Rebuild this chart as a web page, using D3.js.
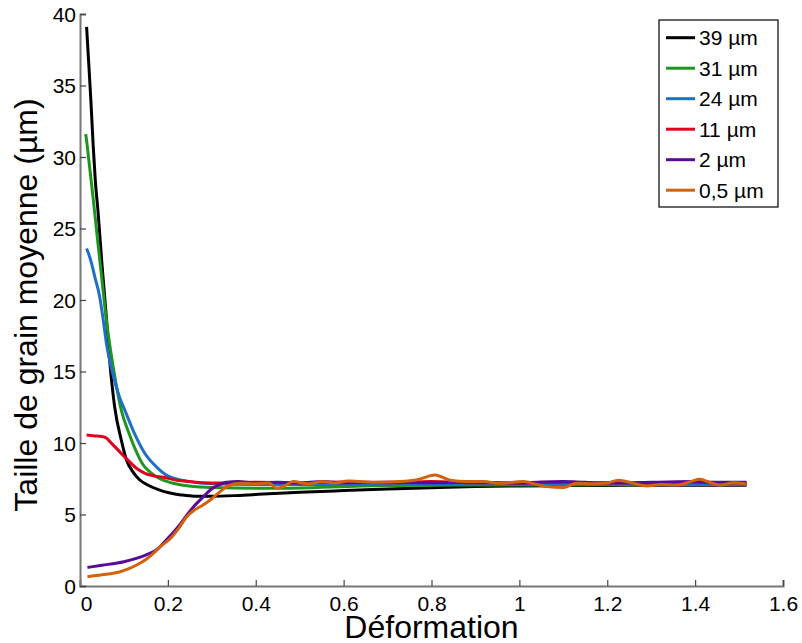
<!DOCTYPE html>
<html><head><meta charset="utf-8">
<script src="https://cdn.jsdelivr.net/npm/d3@7"></script>
<style>body{margin:0;background:#fff}svg{display:block}text{font-family:"Liberation Sans",Arial,sans-serif}</style>
</head><body>
<svg id="c" width="802" height="643"></svg>
<script>
const xTicks = [0,0.2,0.4,0.6,0.8,1,1.2,1.4,1.6];
const xTickLabels = ["0","0.2","0.4","0.6","0.8","1","1.2","1.4","1.6"];
const yTicks = [0,5,10,15,20,25,30,35,40];
const seriesNames = ["39 \u00b5m","31 \u00b5m","24 \u00b5m","11 \u00b5m","2 \u00b5m","0,5 \u00b5m"];
const seriesColors = ["#000000","#1e961e","#1f6ec8","#e0001e","#5a0a96","#d2620c"];

const s39 = [[0.015,39.1],[0.02,36.5],[0.025,33.8],[0.03,30.8],[0.035,28.3],[0.041,26.2],[0.05,22.5],[0.06,18.8],[0.068,15.6],[0.079,12.5],[0.094,10.2],[0.106,8.8],[0.12,8.0],[0.135,7.45],[0.152,7.1],[0.18,6.72],[0.205,6.5],[0.23,6.37],[0.26,6.28],[0.3,6.28],[0.35,6.32],[0.4,6.4],[0.5,6.55],[0.6,6.67],[0.7,6.78],[0.8,6.87],[0.9,6.95],[1.0,7.0],[1.1,7.02],[1.2,7.03],[1.3,7.05],[1.4,7.05],[1.517,7.05]];
const s31 = [[0.013,31.6],[0.016,30.9],[0.02,29.8],[0.03,27.1],[0.04,24.2],[0.05,21.4],[0.06,18.6],[0.07,16.4],[0.08,14.5],[0.094,12.3],[0.11,10.8],[0.124,9.7],[0.144,8.46],[0.16,7.95],[0.182,7.5],[0.21,7.2],[0.258,6.95],[0.3,6.88],[0.41,6.83],[0.5,6.86],[0.64,7.0],[0.8,7.05],[1.0,7.06],[1.2,7.08],[1.4,7.1],[1.517,7.1]];
const s24 = [[0.015,23.6],[0.02,23.2],[0.026,22.6],[0.033,21.7],[0.045,20.2],[0.052,18.8],[0.06,17.0],[0.075,14.8],[0.09,13.2],[0.102,12.3],[0.125,10.6],[0.147,9.3],[0.175,8.3],[0.2,7.7],[0.25,7.3],[0.3,7.15],[0.4,7.1],[0.6,7.1],[0.8,7.12],[1.0,7.12],[1.2,7.13],[1.4,7.15],[1.517,7.15]];
const s11 = [[0.015,10.56],[0.03,10.5],[0.05,10.45],[0.06,10.35],[0.071,10.0],[0.09,9.4],[0.109,8.8],[0.13,8.2],[0.147,7.9],[0.16,7.75],[0.19,7.6],[0.22,7.4],[0.25,7.3],[0.28,7.22],[0.32,7.2],[0.4,7.25],[0.5,7.22],[0.6,7.28],[0.7,7.22],[0.8,7.3],[0.9,7.22],[1.0,7.2],[1.1,7.25],[1.2,7.2],[1.3,7.22],[1.4,7.25],[1.517,7.2]];
const s2 = [[0.017,1.3],[0.05,1.45],[0.1,1.7],[0.13,1.95],[0.152,2.2],[0.175,2.55],[0.19,3.0],[0.205,3.5],[0.225,4.2],[0.243,4.95],[0.26,5.6],[0.281,6.25],[0.3,6.8],[0.315,7.05],[0.334,7.25],[0.36,7.3],[0.4,7.2],[0.45,7.25],[0.5,7.2],[0.55,7.3],[0.6,7.22],[0.7,7.25],[0.8,7.22],[0.9,7.25],[1.0,7.2],[1.05,7.28],[1.1,7.3],[1.15,7.25],[1.2,7.22],[1.3,7.25],[1.4,7.3],[1.45,7.25],[1.517,7.25]];
const s05 = [[0.017,0.65],[0.05,0.78],[0.091,1.0],[0.11,1.2],[0.129,1.47],[0.15,1.85],[0.167,2.28],[0.185,2.8],[0.205,3.3],[0.225,4.05],[0.243,4.85],[0.26,5.3],[0.28,5.66],[0.3,6.1],[0.315,6.5],[0.334,6.95],[0.364,7.18],[0.4,7.15],[0.43,7.2],[0.448,6.83],[0.465,7.0],[0.485,7.3],[0.52,7.15],[0.55,7.3],[0.58,7.2],[0.61,7.35],[0.637,7.3],[0.68,7.25],[0.728,7.3],[0.77,7.45],[0.808,7.76],[0.842,7.4],[0.88,7.3],[0.918,7.3],[0.956,7.18],[1.009,7.3],[1.04,7.1],[1.062,6.95],[1.1,6.88],[1.13,7.18],[1.17,7.15],[1.2,7.2],[1.225,7.4],[1.26,7.18],[1.29,7.0],[1.32,7.1],[1.358,7.06],[1.39,7.3],[1.41,7.46],[1.437,7.2],[1.457,7.06],[1.487,7.22],[1.517,7.13]];
const seriesData = [s39,s31,s24,s11,s2,s05];

const svg = d3.select("#c");
const x = d3.scaleLinear().domain([0,1.6]).range([80,783]);
const y = d3.scaleLinear().domain([0,40]).range([586,14]);

// data lines
const line = d3.line().x(d=>x(d[0])).y(d=>y(d[1])).curve(d3.curveMonotoneX);
seriesData.forEach((s,i)=>{
  svg.append("path").attr("d",line(s)).attr("fill","none")
    .attr("stroke",seriesColors[i]).attr("stroke-width",3).attr("stroke-linejoin","round");
});

// axes
const gx = svg.append("g").attr("transform","translate(0,586)")
  .call(d3.axisBottom(x).tickValues(xTicks).tickSize(-6).tickFormat((d,i)=>xTickLabels[i]));
const gy = svg.append("g").attr("transform","translate(80,0)")
  .call(d3.axisLeft(y).tickValues(yTicks).tickSize(-6).tickFormat(d=>String(d)));
[gx,gy].forEach(g=>{
  g.select(".domain").attr("stroke","#777").attr("stroke-width",2);
  g.selectAll(".tick line").attr("stroke","#444").attr("stroke-width",1.2);
  g.selectAll(".tick text").attr("fill","#000").style("font-size","21px").style("font-family","Liberation Sans, Arial, sans-serif");
});
gx.selectAll(".tick text").attr("y",10).attr("dy","0.71em");
gx.selectAll(".tick text").filter((d,i)=>i===0).attr("dx",6);
gy.selectAll(".tick text").attr("x",-4).attr("dy","0.35em");

// axis labels
svg.append("text").attr("x",431.5).attr("y",638).attr("text-anchor","middle")
  .style("font-size","32px").text("D\u00e9formation");
svg.append("text").attr("transform","translate(37,305) rotate(-90)").attr("text-anchor","middle")
  .style("font-size","32px").text("Taille de grain moyenne (\u00b5m)");

// legend
const lg = svg.append("g");
lg.append("rect").attr("x",659).attr("y",20).attr("width",119).attr("height",187)
  .attr("fill","#fff").attr("stroke","#000").attr("stroke-width",1.2);
seriesNames.forEach((n,i)=>{
  const yy = 37.7 + i*30.5;
  lg.append("line").attr("x1",666).attr("x2",695).attr("y1",yy).attr("y2",yy)
    .attr("stroke",seriesColors[i]).attr("stroke-width",3);
  lg.append("text").attr("x",699).attr("y",yy).attr("dy","0.36em").style("font-size","21px").text(n);
});
</script>
</body></html>
